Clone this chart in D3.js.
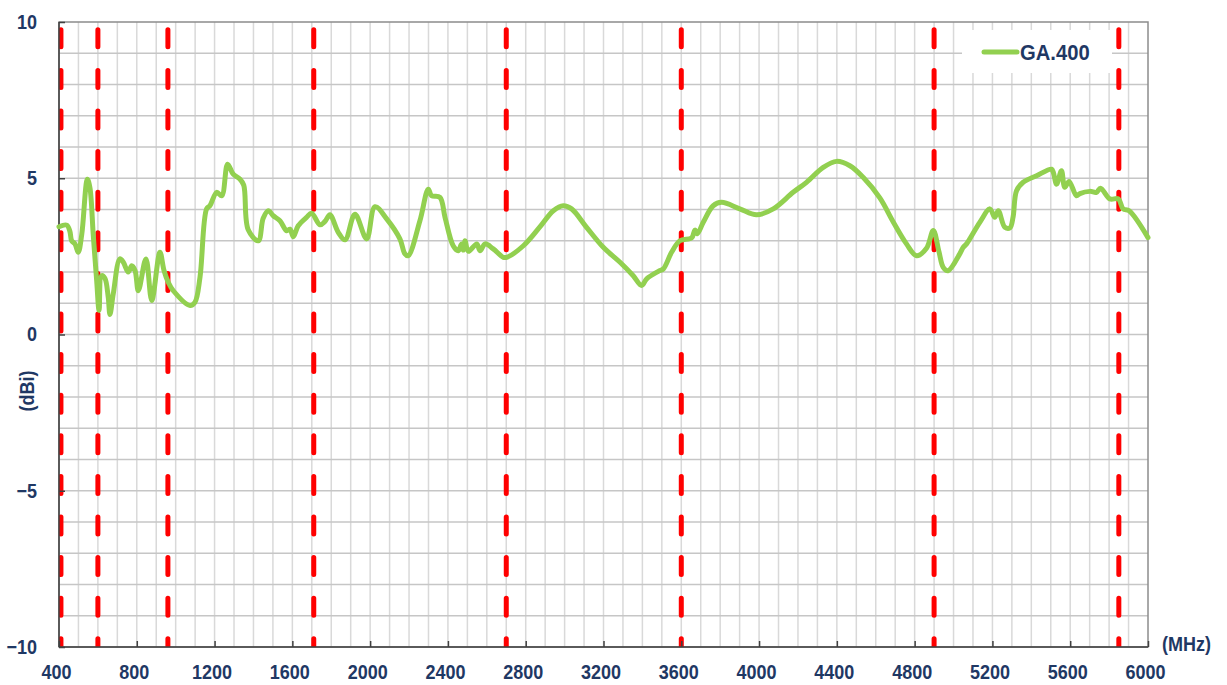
<!DOCTYPE html>
<html>
<head>
<meta charset="utf-8">
<script src="https://cdn.jsdelivr.net/npm/d3@7"></script>
<style>
  html, body { margin: 0; padding: 0; background: #fff; }
  svg { display: block; }
  text { font-family: "Liberation Sans", Arial, sans-serif; font-weight: bold; fill: #1F3864; }
</style>
</head>
<body>
<svg id="chart" width="1227" height="685"></svg>
<script>
// ---- data ----
const freqMHz = [400,440,456,465,482,499,517,546,559,576,594,606,619,636,653,662,679,713,731,756,774,791,808,847,877,919,940,962,988,1074,1099,1125,1159,1176,1211,1237,1267,1296,1331,1350,1373,1425,1450,1476,1502,1536,1571,1588,1605,1630,1673,1699,1742,1768,1793,1836,1871,1922,1982,2025,2085,2153,2179,2196,2256,2299,2316,2359,2385,2427,2453,2470,2479,2488,2505,2548,2565,2591,2633,2685,2702,2788,2874,2942,2993,3036,3113,3199,3285,3353,3396,3422,3482,3508,3550,3593,3653,3670,3682,3713,3764,3807,3901,3987,4073,4175,4244,4330,4398,4467,4535,4621,4690,4758,4810,4861,4896,4925,4947,4972,5032,5050,5067,5135,5187,5212,5230,5264,5290,5306,5324,5358,5427,5504,5513,5530,5555,5572,5594,5632,5650,5701,5735,5756,5804,5847,5872,5903,6000];
const gainDBi = [3.45,3.5,3.3,3.0,2.9,2.63,3.2,4.97,4.7,3.2,1.7,0.77,1.88,1.8,1.2,0.64,1.3,2.42,2.31,2.0,2.2,2.05,1.4,2.42,1.09,2.63,2.05,1.67,1.4,0.93,1.03,1.83,4.02,4.12,4.55,4.44,5.45,5.13,4.97,4.78,3.35,3.0,3.72,3.96,3.8,3.64,3.32,3.37,3.13,3.48,3.75,3.88,3.51,3.62,3.83,3.27,3.03,3.85,3.06,4.09,3.7,3.06,2.58,2.52,3.64,4.65,4.44,4.39,3.75,2.84,2.68,2.9,2.7,3.0,2.66,2.9,2.68,2.9,2.74,2.47,2.47,2.84,3.45,3.96,4.12,4.02,3.43,2.79,2.31,1.88,1.57,1.78,2.02,2.1,2.63,3.0,3.09,3.34,3.22,3.59,4.12,4.23,4.02,3.83,4.02,4.55,4.87,5.35,5.54,5.4,5.03,4.37,3.6,2.9,2.52,2.76,3.33,2.65,2.15,2.04,2.58,2.79,2.9,3.59,4.02,3.75,3.96,3.43,3.41,3.75,4.6,4.87,5.08,5.29,5.19,4.81,5.24,4.71,4.9,4.44,4.51,4.58,4.55,4.68,4.34,4.34,4.02,3.96,3.1];
const bandEdgesMHz = [410, 600, 960, 1710, 2700, 3600, 4900, 5850];
const xTickLabels = [400,800,1200,1600,2000,2400,2800,3200,3600,4000,4400,4800,5200,5600,6000];
const yTickLabels = [10,5,0,-5,-10];
const seriesName = "GA.400";
const xUnit = "(MHz)";
const yUnit = "(dBi)";

// ---- layout ----
const L = 59, R = 1148, T = 22, B = 647;
const svg = d3.select("#chart");
const x = d3.scaleLinear().domain([400, 6000]).range([L, R]);
const y = d3.scaleLinear().domain([-10, 10]).range([B, T]);

// grid
const g = svg.append("g");
g.selectAll("line.vg").data(d3.range(500, 6000, 100)).join("line")
  .attr("x1", d => x(d)).attr("x2", d => x(d)).attr("y1", T).attr("y2", B)
  .attr("stroke", "#D9D9D9").attr("stroke-width", 1.5);
g.selectAll("line.hg").data(d3.range(-9, 10, 1)).join("line")
  .attr("x1", L).attr("x2", R).attr("y1", d => y(d)).attr("y2", d => y(d))
  .attr("stroke", "#C6C6C6").attr("stroke-width", 1.5);

// plot border
svg.append("rect").attr("x", L).attr("y", T).attr("width", R - L).attr("height", B - T)
  .attr("fill", "none").attr("stroke", "#8C8C8C").attr("stroke-width", 1.5);

// legend background (covers grid)
svg.append("rect").attr("x", 962).attr("y", 30).attr("width", 150).attr("height", 43).attr("fill", "#fff");

// clip
svg.append("clipPath").attr("id", "plotclip").append("rect")
  .attr("x", L).attr("y", T).attr("width", R - L).attr("height", B - T);

// red dashed band lines
svg.append("g").attr("clip-path", "url(#plotclip)")
  .selectAll("line").data(bandEdgesMHz).join("line")
  .attr("x1", d => x(d)).attr("x2", d => x(d)).attr("y1", 29.8).attr("y2", B + 20)
  .attr("stroke", "#FF0000").attr("stroke-width", 5)
  .attr("stroke-linecap", "round").attr("stroke-dasharray", "17 23.6");

// axes lines
svg.append("line").attr("x1", L).attr("x2", L).attr("y1", T).attr("y2", B).attr("stroke", "#404040").attr("stroke-width", 1.5);
svg.append("line").attr("x1", L).attr("x2", R).attr("y1", B).attr("y2", B).attr("stroke", "#404040").attr("stroke-width", 1.5);

function condense(sel) {
  sel.each(function () {
    const t = d3.select(this);
    const tx = +t.attr("x") || 0;
    t.attr("x", 0).attr("transform", `translate(${tx},0) scale(0.9,1)`);
  });
}

// axes via d3
const xAxis = d3.axisBottom(x).tickValues(xTickLabels).tickSize(-6).tickPadding(18).tickFormat(d3.format("d"));
const xa = svg.append("g").attr("transform", `translate(0,${B})`).call(xAxis);
xa.select(".domain").remove();
xa.selectAll(".tick line").attr("stroke", "#404040").attr("stroke-width", 1.5);
xa.selectAll(".tick text").attr("font-size", 20).attr("fill", "#1F3864")
  .attr("font-family", "Liberation Sans, Arial, sans-serif").attr("font-weight", "bold")
  .attr("x", -3).call(condense);

const yAxis = d3.axisLeft(y).tickValues(yTickLabels).tickSize(-6).tickPadding(22).tickFormat(d3.format("d"));
const ya = svg.append("g").attr("transform", `translate(${L},0)`).call(yAxis);
ya.select(".domain").remove();
ya.selectAll(".tick line").attr("stroke", "#404040").attr("stroke-width", 1.5);
ya.selectAll(".tick text").attr("font-size", 20).attr("fill", "#1F3864")
  .attr("font-family", "Liberation Sans, Arial, sans-serif").attr("font-weight", "bold")
  .call(condense);

// data line
const line = d3.line().x(d => x(d[0])).y(d => y(d[1])).curve(d3.curveCatmullRom.alpha(0.5));
svg.append("path").datum(freqMHz.map((f, i) => [f, gainDBi[i]]))
  .attr("d", line).attr("fill", "none").attr("stroke", "#92D050")
  .attr("stroke-width", 5).attr("stroke-linejoin", "round").attr("stroke-linecap", "round");

// legend
svg.append("line").attr("x1", 984).attr("x2", 1017).attr("y1", 52).attr("y2", 52)
  .attr("stroke", "#92D050").attr("stroke-width", 5).attr("stroke-linecap", "round");
svg.append("text").attr("transform", "translate(1020,60) scale(0.92,1)").attr("font-size", 22).text(seriesName);

// unit labels
svg.append("text").attr("transform", "translate(1162,651) scale(0.9,1)").attr("font-size", 20).text(xUnit);
svg.append("text").attr("transform", "translate(34,391) rotate(-90) scale(0.9,1)").attr("text-anchor", "middle")
  .attr("font-size", 20).text(yUnit);
</script>
</body>
</html>
